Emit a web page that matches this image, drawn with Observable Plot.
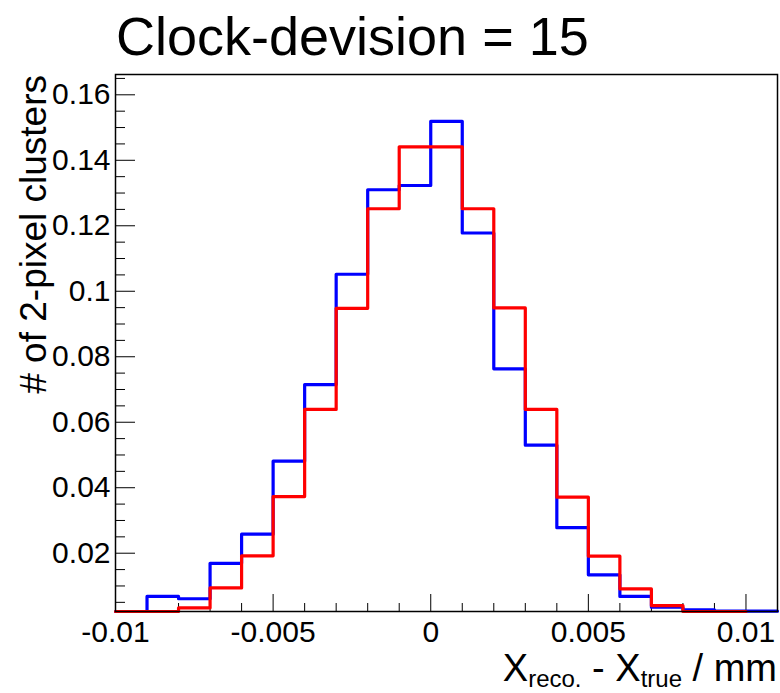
<!DOCTYPE html>
<html>
<head>
<meta charset="utf-8">
<script src="https://cdn.jsdelivr.net/npm/d3@7"></script>
<script src="https://cdn.jsdelivr.net/npm/@observablehq/plot@0.6"></script>
<style>
  html, body { margin: 0; padding: 0; background: #fff; }
  #chart svg { display: block; font-family: "Liberation Sans", Arial, Helvetica, sans-serif; }
</style>
</head>
<body>
<div id="chart"></div>
<script>
// Bin edges (mm)
const binEdges = [-0.010, -0.009, -0.008, -0.007, -0.006, -0.005, -0.004, -0.003, -0.002, -0.001,
                  0.000, 0.001, 0.002, 0.003, 0.004, 0.005, 0.006, 0.007, 0.008, 0.009, 0.010, 0.011];
// Blue histogram (21 bins, -0.010 .. 0.011)
const blueValues = [0.0010, 0.0068, 0.0061, 0.0169, 0.0258, 0.0481, 0.0715, 0.1052, 0.1310, 0.1323,
                    0.1519, 0.1178, 0.0763, 0.0530, 0.0278, 0.0134, 0.0068, 0.0035, 0.0027, 0.0023, 0.0023];
// Red histogram (20 bins, -0.010 .. 0.010)
const redValues = [0.0010, 0.0010, 0.0033, 0.0094, 0.0192, 0.0373, 0.0639, 0.0948, 0.1252, 0.1441,
                   0.1441, 0.1252, 0.0949, 0.0639, 0.0371, 0.0191, 0.0091, 0.0040, 0.0020, 0.0020];

const xMajorTicks = [-0.01, -0.005, 0, 0.005, 0.01];
const xMajorLabels = ["-0.01", "-0.005", "0", "0.005", "0.01"];
const xMinorTicks = [-0.009, -0.008, -0.007, -0.006, -0.004, -0.003, -0.002, -0.001,
                     0.001, 0.002, 0.003, 0.004, 0.006, 0.007, 0.008, 0.009];
const yMajorTicks = [0.02, 0.04, 0.06, 0.08, 0.10, 0.12, 0.14, 0.16];
const yMajorLabels = ["0.02", "0.04", "0.06", "0.08", "0.1", "0.12", "0.14", "0.16"];
const yMinorTicks = [0.005, 0.010, 0.015, 0.025, 0.030, 0.035, 0.045, 0.050, 0.055, 0.065, 0.070, 0.075,
                     0.085, 0.090, 0.095, 0.105, 0.110, 0.115, 0.125, 0.130, 0.135, 0.145, 0.150, 0.155, 0.165];

const titleText = "Clock-devision = 15";
const yTitle = "# of 2-pixel clusters";

function steps(values) {
  const pts = [];
  for (let i = 0; i <= values.length; i++) {
    pts.push({x: binEdges[i], y: values[Math.min(i, values.length - 1)]});
  }
  return pts;
}

const W = 780, H = 693;
const mL = 115, mR = 3, mT = 74, mB = 82;
const plotW = W - mL - mR, plotH = H - mT - mB;

const chart = Plot.plot({
  width: W, height: H,
  marginLeft: mL, marginRight: mR, marginTop: mT, marginBottom: mB,
  style: {fontFamily: '"Liberation Sans", Arial, Helvetica, sans-serif', color: "black", background: "white"},
  x: {domain: [-0.01, 0.011]},
  y: {domain: [0.0022, 0.1662], clamp: true},
  marks: [
    Plot.tickY(yMajorTicks, {y: d => d, stroke: "black", strokeWidth: 1, insetRight: plotW - 20}),
    Plot.tickY(yMinorTicks, {y: d => d, stroke: "black", strokeWidth: 1, insetRight: plotW - 10}),
    Plot.tickX(xMajorTicks, {x: d => d, stroke: "black", strokeWidth: 1, insetTop: plotH - 17}),
    Plot.tickX(xMinorTicks, {x: d => d, stroke: "black", strokeWidth: 1, insetTop: plotH - 8}),
    Plot.axisY({ticks: yMajorTicks, tickSize: 0, tickPadding: 5, fontSize: 30, label: null,
                tickFormat: d => yMajorLabels[yMajorTicks.indexOf(d)]}),
    Plot.axisX({ticks: xMajorTicks, tickSize: 0, tickPadding: 9, fontSize: 30, label: null,
                tickFormat: d => xMajorLabels[xMajorTicks.indexOf(d)]}),
    Plot.line(steps(blueValues), {x: "x", y: "y", curve: "step-after", stroke: "#0000ff", strokeWidth: 3.2}),
    Plot.line(steps(redValues), {x: "x", y: "y", curve: "step-after", stroke: "#ff0000", strokeWidth: 3.2}),
    Plot.frame({stroke: "black", strokeWidth: 1.5})
  ]
});

const svg = d3.select(chart);
const font = '"Liberation Sans", Arial, Helvetica, sans-serif';
// Title
svg.append("text")
  .attr("x", 116).attr("y", 55)
  .attr("text-anchor", "start")
  .attr("font-family", font).attr("font-size", 54).attr("fill", "black")
  .text(titleText);
// Y title
svg.append("text")
  .attr("transform", "translate(46,75) rotate(-90)")
  .attr("text-anchor", "end")
  .attr("font-family", font).attr("font-size", 37).attr("fill", "black")
  .text(yTitle);
// X title with subscripts
const xt = svg.append("text")
  .attr("x", 777).attr("y", 681)
  .attr("text-anchor", "end")
  .attr("font-family", font).attr("font-size", 38).attr("fill", "black");
xt.append("tspan").text("X");
xt.append("tspan").attr("font-size", 24).attr("dy", 6).text("reco.");
xt.append("tspan").attr("dy", -6).text(" - X");
xt.append("tspan").attr("font-size", 24).attr("dy", 6).text("true");
xt.append("tspan").attr("dy", -6).text(" / mm");

document.getElementById("chart").appendChild(chart);
</script>
</body>
</html>
